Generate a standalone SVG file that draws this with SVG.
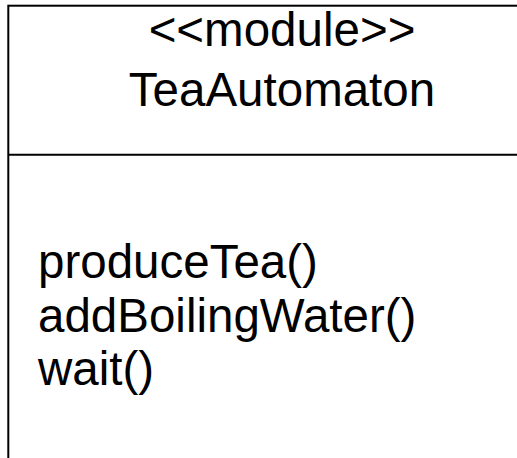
<svg xmlns="http://www.w3.org/2000/svg" width="517" height="458" viewBox="0 0 517 458">
  <style>
    .frame { fill: #ffffff; stroke: #000000; stroke-width: 2; }
    .sep { stroke: #000000; stroke-width: 2; }
    .label { font-family: "Liberation Sans", Arial, sans-serif; font-size: 47.5px; fill: #000000; }
    .title { text-anchor: middle; }
  </style>
  <rect width="517" height="458" fill="#ffffff"/>
  <g id="TeaAutomaton">
    <rect class="frame" x="8.3" y="5.7" width="530" height="470"/>
    <line class="sep" x1="8.3" y1="154.7" x2="540" y2="154.7"/>
    <text class="label title" x="282" y="46">&lt;&lt;module&gt;&gt;</text>
    <text class="label title" x="282" y="106">TeaAutomaton</text>
    <text class="label" x="38" y="278">produceTea()</text>
    <text class="label" x="38" y="332">addBoilingWater()</text>
    <text class="label" x="38" y="385">wait()</text>
  </g>
  <g id="connectors"/>
</svg>
